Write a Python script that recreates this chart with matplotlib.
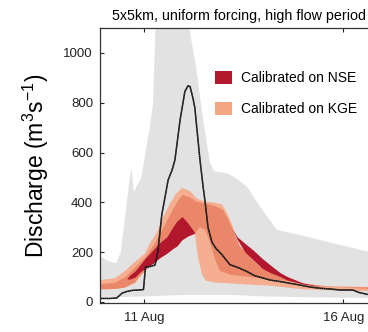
import numpy as np
import matplotlib
matplotlib.use("Agg")
import matplotlib.pyplot as plt
from matplotlib.patches import Patch

plt.rcParams["font.family"] = ["Liberation Sans", "DejaVu Sans"]
plt.rcParams["mathtext.fontset"] = "custom"
plt.rcParams["mathtext.rm"] = "Liberation Sans"
plt.rcParams["mathtext.it"] = "Liberation Sans:italic"

# time axis: days relative to 11 Aug 00:00
tick_days = [0, 5]
tick_labels = ["11 Aug", "16 Aug"]

# observed discharge (m3/s)
t_obs = [-1.11, -0.86, -0.69, -0.56, -0.44, -0.28, -0.11, -0.02, 0.03, 0.14, 0.27,
         0.34, 0.44, 0.52, 0.60, 0.70, 0.77, 0.90, 1.02, 1.10, 1.15, 1.22, 1.27,
         1.35, 1.40, 1.48, 1.53, 1.60, 1.70, 1.80, 1.95, 2.15, 2.40, 2.58, 2.78,
         2.98, 3.16, 3.41, 3.66, 3.91, 4.16, 4.41, 4.67, 4.92, 5.24, 5.39, 5.62, 5.90]
q_obs = [14, 14, 16, 35, 42, 47, 48, 50, 140, 142, 148, 200, 350, 420, 490, 530,
         570, 731, 845, 868, 865, 820, 780, 650, 570, 460, 400, 300, 240, 215, 190,
         150, 135, 122, 105, 96, 88, 82, 75, 68, 60, 55, 52, 48, 48, 38, 30, 26]

# full ensemble envelope (grey)
t_env_up = [-1.11, -0.91, -0.71, -0.59, -0.49, -0.38, -0.32, -0.26, -0.18, -0.08,
            0.04, 0.14, 0.22, 0.29, 1.07, 1.15, 1.30, 1.48, 1.65, 1.75, 2.08,
            2.28, 2.58, 2.91, 3.33, 3.91, 4.74, 5.62, 5.90]
env_up = [182, 165, 155, 200, 330, 480, 535, 440, 470, 495, 610, 700, 800, 1150,
          1150, 1080, 945, 731, 560, 525, 516, 500, 463, 383, 289, 269, 236, 202, 195]
t_env_lo = [-1.11, 0.00, 1.00, 2.20, 3.00, 4.50, 5.90]
env_lo = [18, 22, 28, 28, 22, 18, 16]

# KGE-calibrated range (outer)
t_kge_up = [-1.11, -0.74, -0.48, -0.23, 0.02, 0.14, 0.32, 0.47, 0.65, 0.80, 0.95,
            1.15, 1.32, 1.53, 1.78, 1.95, 2.08, 2.15, 2.23, 2.30, 2.40, 2.66, 2.91,
            3.16, 3.54, 3.91, 4.41, 5.62, 5.90]
kge_up = [88, 95, 125, 162, 195, 235, 280, 340, 396, 435, 458, 445, 415, 403, 398,
          392, 356, 330, 300, 258, 225, 180, 140, 118, 92, 75, 64, 60, 60]
t_kge_lo = [-1.11, -0.74, -0.48, -0.23, -0.11, 0.02, 0.22, 0.57, 0.82, 0.97, 1.15,
            1.27, 1.35, 1.45, 1.55, 1.78, 2.40, 3.16, 3.91, 4.92, 5.90]
kge_lo = [52, 52, 58, 75, 100, 125, 155, 196, 222, 256, 268, 276, 180, 110, 85, 78,
          72, 65, 52, 45, 42]

# overlapping core of the calibrated ranges
t_core_up = [-1.11, -0.74, -0.48, -0.23, 0.02, 0.27, 0.52, 0.65, 0.85, 0.97, 1.15,
             1.32, 1.53, 1.78, 1.98, 2.10, 2.23, 2.30, 2.40, 2.66, 2.91, 3.16, 3.54,
             3.91, 4.41, 5.62, 5.90]
core_up = [72, 76, 100, 138, 178, 235, 310, 350, 408, 430, 420, 402, 396, 385, 369,
           335, 290, 258, 225, 180, 140, 118, 92, 74, 63, 58, 58]
t_core_lo = [-1.11, -0.74, -0.48, -0.23, -0.11, 0.02, 0.22, 0.57, 0.82, 0.97, 1.27,
             1.40, 1.53, 1.65, 1.78, 1.90, 2.15, 2.66, 3.16, 3.66, 4.41, 5.62, 5.90]
core_lo = [50, 52, 58, 80, 105, 125, 155, 196, 222, 256, 276, 300, 290, 240, 170,
           125, 110, 100, 92, 82, 66, 52, 52]

# NSE-calibrated range (rising limb / peak)
t_nse_a = [-0.43, -0.36, -0.23, -0.11, 0.02, 0.22, 0.39, 0.57, 0.72, 0.82, 0.95,
           1.10, 1.27]
nse_a_lo = [92, 92, 100, 120, 135, 155, 178, 196, 215, 225, 250, 265, 276]
nse_a_hi = [95, 108, 125, 148, 175, 209, 238, 262, 302, 325, 343, 316, 278]

# NSE-calibrated range (recession)
t_nse_b = [2.23, 2.33, 2.53, 2.73, 2.96, 3.16, 3.41, 3.59, 3.99, 4.41]
nse_b_lo = [288, 252, 200, 170, 135, 118, 102, 88, 72, 62]
nse_b_hi = [290, 262, 235, 209, 175, 149, 118, 102, 76, 63]

grey = "#e2e2e2"
kge_light = "#f5ae90"
kge_mid = "#eb8769"
nse_red = "#b3172d"

fig = plt.figure(figsize=(3.68, 3.32), dpi=100)
ax = fig.add_axes([0.2717, 0.0883, 0.7554, 0.8274])


def band(ax, t_up, up, t_lo, lo, color):
    xs = np.concatenate([t_up, np.asarray(t_lo)[::-1]])
    ys = np.concatenate([up, np.asarray(lo)[::-1]])
    ax.fill(xs, ys, color=color, lw=0)


band(ax, t_env_up, env_up, t_env_lo, env_lo, grey)
band(ax, t_kge_up, kge_up, t_kge_lo, kge_lo, kge_light)
band(ax, t_core_up, core_up, t_core_lo, core_lo, kge_mid)
ax.fill_between(t_nse_a, nse_a_lo, nse_a_hi, color=nse_red, lw=0)
ax.fill_between(t_nse_b, nse_b_lo, nse_b_hi, color=nse_red, lw=0)

ax.plot(t_obs, q_obs, color="black", lw=1.1, solid_joinstyle="round")
ax.plot(t_obs, q_obs, color="#9a9a9a", lw=0.35, dashes=(2, 2))

ax.set_xlim(-1.113, 5.872)
ax.set_ylim(-3, 1100)
ax.set_xticks(tick_days)
ax.set_xticklabels(tick_labels)
ax.set_yticks([0, 200, 400, 600, 800, 1000])
ax.tick_params(axis="x", direction="in", top=True, length=3, width=0.8,
               labelsize=9.5, pad=7, colors="#222222")
ax.tick_params(axis="y", direction="in", length=3, width=0.8,
               labelsize=9.5, pad=5, colors="#222222")
for side in ["left", "bottom", "top", "right"]:
    ax.spines[side].set_linewidth(0.9)
    ax.spines[side].set_color("#333333")

ax.set_ylabel(r"Discharge (m$^{3}$s$^{-1}$)", fontsize=16.5, labelpad=9)
ax.set_title("5x5km, uniform forcing, high flow period", fontsize=10.3, pad=6)

handles = [Patch(facecolor=nse_red, edgecolor="none"),
           Patch(facecolor="#f4a582", edgecolor="none")]
fig.legend(handles, ["Calibrated on NSE", "Calibrated on KGE"],
           loc="upper left", bbox_to_anchor=(215 / 368, 1 - 71 / 332),
           bbox_transform=fig.transFigure, frameon=False, fontsize=10,
           borderpad=0, borderaxespad=0, handlelength=1.25, handleheight=1.05,
           handletextpad=0.6, labelspacing=1.2)

fig.savefig("out.png", dpi=100)
